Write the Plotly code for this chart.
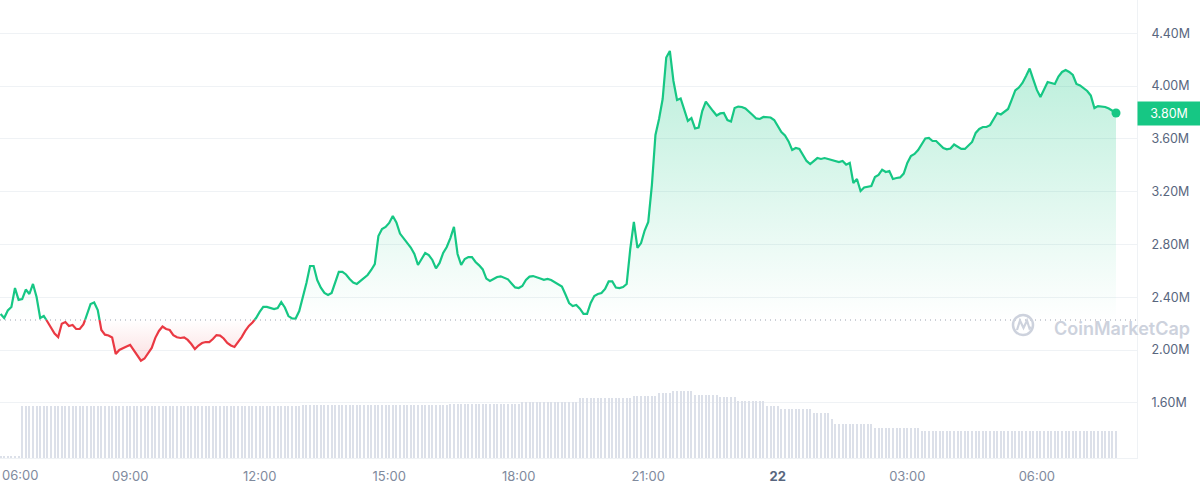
import plotly.graph_objects as go
import pandas as pd

# ---------------- data ----------------
START = pd.Timestamp("2023-07-21 06:00")

# price in millions, one reading every 5 minutes from 06:00 (day 21) to 07:50 (day 22)
price = [
    2.274, 2.243, 2.300, 2.327, 2.470, 2.380, 2.387, 2.459, 2.425, 2.501, 2.402, 2.243,
    2.258, 2.217, 2.167, 2.126, 2.099, 2.200, 2.213, 2.183, 2.190, 2.160, 2.160, 2.194,
    2.266, 2.349, 2.361, 2.304, 2.152, 2.117, 2.111, 2.095, 1.970, 2.001, 2.016, 2.028,
    2.039, 1.999, 1.959, 1.920, 1.936, 1.976, 2.016, 2.093, 2.145, 2.179, 2.160, 2.152,
    2.114, 2.097, 2.092, 2.097, 2.077, 2.046, 2.008, 2.035, 2.054, 2.061, 2.061, 2.084,
    2.114, 2.110, 2.088, 2.054, 2.035, 2.024, 2.058, 2.099, 2.145, 2.183, 2.209, 2.243,
    2.289, 2.327, 2.327, 2.319, 2.311, 2.319, 2.364, 2.323, 2.258, 2.240, 2.239, 2.296,
    2.402, 2.508, 2.637, 2.637, 2.531, 2.473, 2.433, 2.418, 2.433, 2.516, 2.592, 2.592,
    2.573, 2.539, 2.512, 2.501, 2.524, 2.546, 2.569, 2.607, 2.652, 2.864, 2.918, 2.933,
    2.963, 3.016, 2.967, 2.883, 2.849, 2.816, 2.777, 2.728, 2.645, 2.690, 2.736, 2.720,
    2.683, 2.619, 2.660, 2.736, 2.781, 2.849, 2.933, 2.728, 2.645, 2.690, 2.705, 2.705,
    2.668, 2.642, 2.611, 2.542, 2.524, 2.539, 2.554, 2.559, 2.550, 2.536, 2.505, 2.475,
    2.470, 2.486, 2.531, 2.557, 2.561, 2.554, 2.543, 2.533, 2.539, 2.531, 2.516, 2.501,
    2.482, 2.421, 2.357, 2.334, 2.342, 2.314, 2.274, 2.274, 2.357, 2.410, 2.425, 2.433,
    2.463, 2.520, 2.520, 2.474, 2.470, 2.478, 2.501, 2.766, 2.971, 2.774, 2.811, 2.906,
    2.971, 3.248, 3.630, 3.751, 3.902, 4.217, 4.266, 4.039, 3.895, 3.906, 3.819, 3.736,
    3.758, 3.679, 3.686, 3.811, 3.883, 3.842, 3.811, 3.777, 3.793, 3.796, 3.743, 3.732,
    3.834, 3.845, 3.842, 3.830, 3.808, 3.781, 3.755, 3.751, 3.766, 3.766, 3.762, 3.743,
    3.694, 3.652, 3.626, 3.581, 3.516, 3.531, 3.524, 3.483, 3.433, 3.410, 3.433, 3.455,
    3.448, 3.455, 3.448, 3.440, 3.433, 3.425, 3.433, 3.405, 3.418, 3.266, 3.296, 3.205,
    3.232, 3.236, 3.243, 3.311, 3.327, 3.367, 3.349, 3.357, 3.296, 3.304, 3.308, 3.337,
    3.418, 3.470, 3.486, 3.516, 3.565, 3.603, 3.607, 3.584, 3.584, 3.556, 3.531, 3.521,
    3.527, 3.558, 3.539, 3.524, 3.524, 3.549, 3.577, 3.645, 3.675, 3.690, 3.690, 3.704,
    3.751, 3.796, 3.785, 3.804, 3.827, 3.895, 3.967, 3.989, 4.024, 4.076, 4.133, 4.051,
    3.971, 3.917, 3.971, 4.031, 4.024, 4.016, 4.073, 4.107, 4.122, 4.107, 4.084, 4.016,
    4.005, 3.984, 3.963, 3.928, 3.834, 3.849, 3.846, 3.842, 3.830, 3.811, 3.796,
]
price_times = pd.date_range(START, periods=len(price), freq="5min")

# volume bars (relative units), one every 5 minutes
volume = [
    25, 25, 25, 25, 25, 25, 520, 520, 520, 520, 520, 520,
    520, 520, 520, 520, 520, 520, 520, 520, 520, 520, 520, 520,
    520, 520, 520, 520, 525, 525, 525, 525, 525, 525, 525, 525,
    525, 525, 525, 525, 525, 525, 525, 525, 525, 525, 525, 525,
    525, 525, 525, 525, 525, 525, 525, 525, 525, 525, 525, 525,
    525, 525, 525, 525, 525, 525, 525, 525, 525, 525, 525, 525,
    525, 525, 525, 525, 525, 525, 525, 525, 525, 525, 525, 525,
    535, 535, 535, 535, 535, 535, 535, 535, 535, 535, 535, 535,
    535, 535, 535, 535, 535, 535, 535, 535, 535, 535, 535, 535,
    535, 535, 535, 535, 535, 535, 535, 535, 535, 535, 535, 535,
    535, 535, 535, 535, 535, 545, 545, 545, 545, 545, 545, 545,
    545, 545, 545, 545, 545, 545, 545, 545, 545, 545, 545, 545,
    545, 565, 565, 565, 565, 565, 565, 565, 565, 565, 565, 565,
    565, 565, 565, 565, 565, 605, 605, 605, 605, 605, 605, 605,
    605, 605, 605, 605, 605, 605, 605, 605, 620, 620, 620, 620,
    620, 620, 620, 655, 655, 655, 655, 675, 675, 675, 675, 675,
    675, 630, 630, 630, 630, 630, 630, 630, 607, 607, 607, 607,
    607, 575, 575, 575, 575, 575, 575, 575, 575, 520, 520, 520,
    520, 490, 490, 490, 490, 490, 490, 490, 490, 490, 455, 455,
    455, 455, 455, 390, 345, 345, 345, 345, 345, 345, 345, 345,
    345, 345, 345, 305, 305, 305, 305, 305, 305, 305, 305, 305,
    305, 305, 305, 305, 270, 270, 270, 270, 270, 270, 270, 270,
    270, 270, 270, 270, 270, 270, 270, 270, 270, 270, 270, 270,
    270, 270, 270, 270, 270, 270, 270, 270, 270, 270, 270, 270,
    270, 270, 270, 270, 270, 270, 270, 270, 270, 270, 270, 270,
    270, 270, 270, 270, 270, 270, 270, 270, 270, 270, 270,
]
vol_times = pd.date_range(START, periods=len(volume), freq="5min")

BASE = 2.228  # reference (opening) level, dotted line

y_ticks = [1.60, 2.00, 2.40, 2.80, 3.20, 3.60, 4.00, 4.40]
y_tick_labels = [f"{v:.2f}M" for v in y_ticks]

x_tick_times = ["2023-07-21 09:00", "2023-07-21 12:00", "2023-07-21 15:00",
                "2023-07-21 18:00", "2023-07-21 21:00", "2023-07-22 00:00",
                "2023-07-22 03:00", "2023-07-22 06:00"]
x_tick_labels = ["09:00", "12:00", "15:00", "18:00", "21:00",
                 "<span style='color:#58667e'><b>22</b></span>", "03:00", "06:00"]
first_x_label = "06:00"

# ---------------- styling ----------------
GREEN = "#16c784"
RED = "#ea3943"
W, H = 1200, 491
ML, MR, MT, MB = 0, 63, 0, 33
PW, PH = W - ML - MR, H - MT - MB
FONT = "Inter"


def px(x):
    return (x - ML) / PW


def py(y):
    return 1 - (y - MT) / PH


# insert baseline crossings so the line colour switches exactly at the baseline
xs, ys = [], []
for k in range(len(price)):
    if k > 0:
        v0, v1 = price[k - 1], price[k]
        if (v0 - BASE) * (v1 - BASE) < 0:
            t0, t1 = price_times[k - 1], price_times[k]
            f = (BASE - v0) / (v1 - v0)
            xs.append(t0 + (t1 - t0) * f)
            ys.append(BASE)
    xs.append(price_times[k])
    ys.append(price[k])

green_line = [v if v >= BASE else None for v in ys]
red_line = [v if v <= BASE else None for v in ys]
base_line = [BASE for _ in ys]

fig = go.Figure()

# volume
fig.add_trace(go.Bar(
    x=vol_times, y=volume, yaxis="y2", width=85000,
    marker=dict(color="#dce0e9", line=dict(width=0)),
    hoverinfo="skip", showlegend=False,
))

# fills
fig.add_trace(go.Scatter(x=xs, y=base_line, mode="lines", line=dict(width=0),
                         hoverinfo="skip", showlegend=False))
fig.add_trace(go.Scatter(
    x=xs, y=[max(v, BASE) for v in ys], mode="lines", line=dict(width=0),
    fill="tonexty",
    fillgradient=dict(type="vertical", start=BASE, stop=max(price),
                      colorscale=[[0, "rgba(22,199,132,0.0)"],
                                  [1, "rgba(22,199,132,0.30)"]]),
    hoverinfo="skip", showlegend=False))
fig.add_trace(go.Scatter(x=xs, y=base_line, mode="lines", line=dict(width=0),
                         hoverinfo="skip", showlegend=False))
fig.add_trace(go.Scatter(
    x=xs, y=[min(v, BASE) for v in ys], mode="lines", line=dict(width=0),
    fill="tonexty",
    fillgradient=dict(type="vertical", start=BASE, stop=min(price),
                      colorscale=[[0, "rgba(234,57,67,0.0)"],
                                  [1, "rgba(234,57,67,0.16)"]]),
    hoverinfo="skip", showlegend=False))

# lines
fig.add_trace(go.Scatter(x=xs, y=green_line, mode="lines",
                         line=dict(color=GREEN, width=2.2), connectgaps=False,
                         hoverinfo="skip", showlegend=False))
fig.add_trace(go.Scatter(x=xs, y=red_line, mode="lines",
                         line=dict(color=RED, width=2.2), connectgaps=False,
                         hoverinfo="skip", showlegend=False))
fig.add_trace(go.Scatter(x=[price_times[-1]], y=[price[-1]], mode="markers",
                         marker=dict(size=9, color=GREEN),
                         hoverinfo="skip", showlegend=False))

x0 = START - pd.Timedelta(seconds=50)
x1 = START + pd.Timedelta(hours=PW / 43.2)

fig.update_layout(
    width=W, height=H, autosize=False,
    margin=dict(l=ML, r=MR, t=MT, b=MB),
    paper_bgcolor="white", plot_bgcolor="white",
    font=dict(family=FONT),
    bargap=0,
    xaxis=dict(
        type="date", range=[x0, x1], showgrid=False, zeroline=False,
        showline=True, linecolor="#eff2f5", linewidth=1,
        tickvals=x_tick_times, ticktext=x_tick_labels, ticks="",
        tickfont=dict(family=FONT, size=13, color="#808a9d"),
        ticklabelstandoff=6,
    ),
    yaxis=dict(
        side="right", range=[4.6523 - PH / 132, 4.6523],
        tickvals=y_ticks, ticktext=y_tick_labels, ticks="",
        showgrid=True, gridcolor="#eff2f5", gridwidth=1,
        zeroline=False, showline=True, linecolor="#eff2f5", linewidth=1,
        tickfont=dict(family=FONT, size=12.5, color="#58667e"),
        ticklabelstandoff=11,
    ),
    yaxis2=dict(overlaying="y", range=[0, PH * 10], visible=False),
    shapes=[
        dict(type="line", xref="paper", x0=0, x1=1, yref="y", y0=BASE, y1=BASE,
             line=dict(color="#9aa1b0", width=1, dash="1px,4px"), layer="above"),
        # watermark logo
        dict(type="circle", xref="paper", yref="paper",
             x0=px(1013), x1=px(1033), y0=py(335), y1=py(315),
             line=dict(color="#cdd2dd", width=2.5)),
        dict(type="path", xref="paper", yref="paper",
             path=(f"M {px(1017)},{py(330)} L {px(1020)},{py(320.5)} "
                   f"L {px(1023.5)},{py(328)} L {px(1027)},{py(320.5)} "
                   f"L {px(1029.5)},{py(328.5)} L {px(1031)},{py(327)}"),
             line=dict(color="#cdd2dd", width=2.2)),
    ],
    annotations=[
        dict(xref="paper", yref="paper", x=px(1052), y=py(328),
             xanchor="left", yanchor="middle", showarrow=False,
             text="CoinMarketCap",
             font=dict(family=FONT, size=18, color="#cdd2dd", weight=600)),
        dict(xref="paper", yref="paper", x=0, y=py(475),
             xanchor="left", yanchor="middle", showarrow=False,
             text=first_x_label,
             font=dict(family=FONT, size=13, color="#808a9d")),
        dict(xref="paper", yref="y", x=1, y=price[-1],
             xanchor="left", yanchor="middle", showarrow=False,
             text=f"{price[-1]:.2f}M", align="center",
             width=56, height=17, borderpad=3, bgcolor=GREEN,
             font=dict(family=FONT, size=12.5, color="white")),
    ],
)

fig.write_html("out.html")
